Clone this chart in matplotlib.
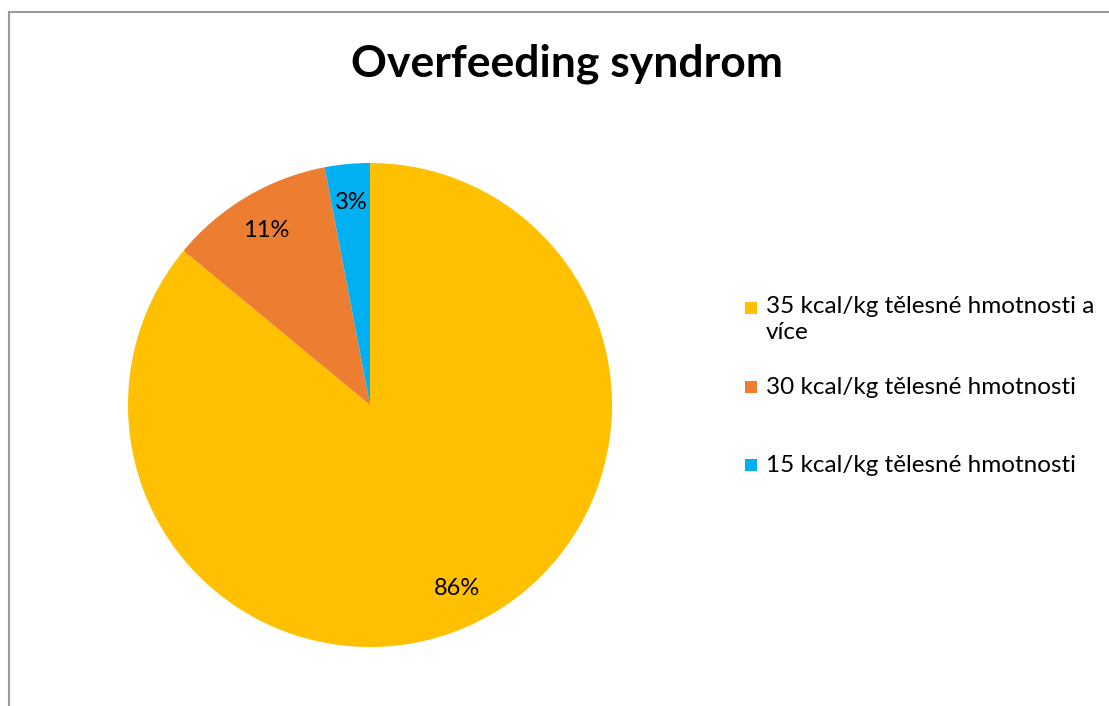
import matplotlib
matplotlib.use("Agg")
import matplotlib.pyplot as plt
from matplotlib.patches import Rectangle
from matplotlib.lines import Line2D

plt.rcParams['font.family'] = ['Lato', 'DejaVu Sans']

labels = ["35 kcal/kg tělesné hmotnosti a\nvíce",
          "30 kcal/kg tělesné hmotnosti",
          "15 kcal/kg tělesné hmotnosti"]
shares = [86, 11, 3]
colors = ['#FFC000', '#ED7D31', '#00B0F0']
title = "Overfeeding syndrom"

W, H = 1109, 706
fig = plt.figure(figsize=(W / 100, H / 100), dpi=100)
fig.patch.set_facecolor('white')

# chart frame: only the top and left edges fall inside the image
x0, y0 = 8.5 / W, 1 - 11.5 / H
fig.lines.append(Line2D([x0, 1.01], [y0, y0], transform=fig.transFigure,
                        color='#9a9a9a', linewidth=1.5))
fig.lines.append(Line2D([x0, x0], [y0, -0.01], transform=fig.transFigure,
                        color='#9a9a9a', linewidth=1.5))

ax = fig.add_axes([128 / W, 59 / H, 484 / W, 484 / H])
wedges, _, autotexts = ax.pie(shares, colors=colors, startangle=90, counterclock=False,
                              autopct='%1.0f%%', pctdistance=0.84,
                              wedgeprops=dict(linewidth=0),
                              textprops=dict(fontsize=17, color='black'))
ax.set_xlim(-1, 1)
ax.set_ylim(-1, 1)
ax.set_aspect('auto')
ax.axis('off')

fig.text(567 / W, 1 - 64 / H, title, ha='center', va='center',
         fontsize=32, fontweight='bold')

# legend: colour square + label
ys = [308, 387, 465]
for lab, col, y in zip(labels, colors, ys):
    fig.patches.append(Rectangle((745 / W, 1 - (y + 6) / H), 12 / W, 12 / H,
                                 transform=fig.transFigure, facecolor=col, edgecolor='none'))
    if '\n' in lab:
        fig.text(766 / W, 1 - (y - 12) / H, lab, ha='left', va='top',
                 fontsize=17.5, linespacing=1.3)
    else:
        fig.text(766 / W, 1 - y / H, lab, ha='left', va='center', fontsize=17.5)

fig.savefig('out.png', dpi=100)
